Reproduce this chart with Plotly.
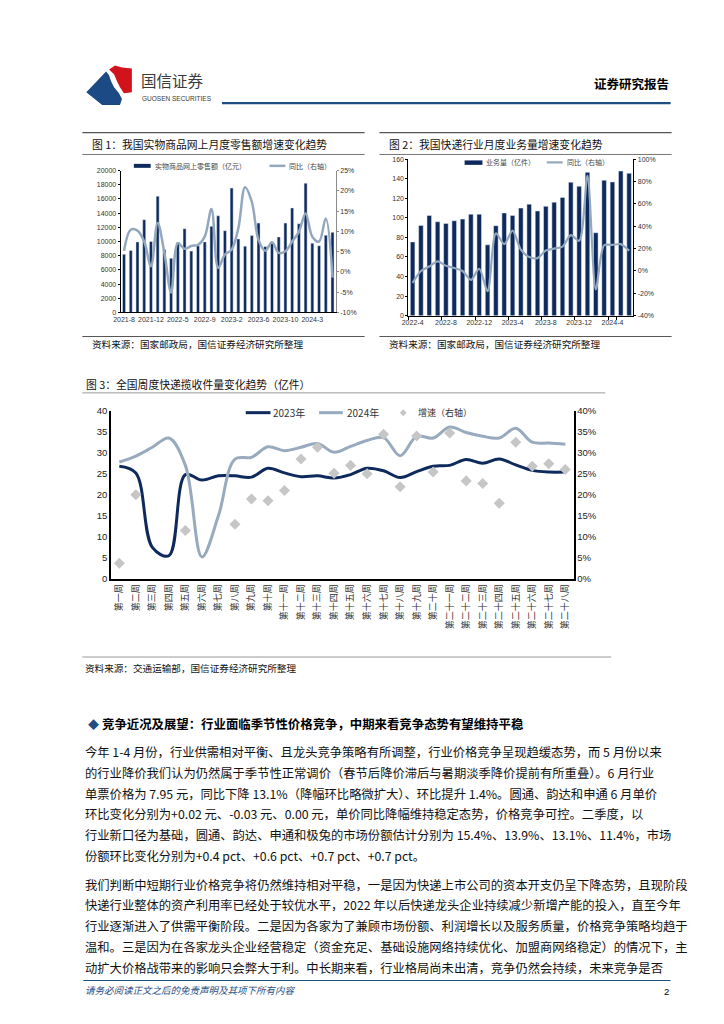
import plotly.graph_objects as go

W, H = 724, 1024
def X(p): return p / W
def Y(p): return 1 - p / H

NAVY = "#0e2a5c"
LIGHT = "#93a8bd"
DIAM = "#c6c6c6"
CJK = "Noto Sans CJK SC"
NUM = "Liberation Sans, Arial"

# ---------------- data: chart 1 ----------------
retail_months = ["2021-8", "2021-9", "2021-10", "2021-11", "2021-12",
                 "2022-2", "2022-3", "2022-4", "2022-5", "2022-6", "2022-7", "2022-8",
                 "2022-9", "2022-10", "2022-11", "2022-12",
                 "2023-2", "2023-3", "2023-4", "2023-5", "2023-6", "2023-7", "2023-8",
                 "2023-9", "2023-10", "2023-11", "2023-12",
                 "2024-2", "2024-3", "2024-4", "2024-5", "2024-6"]
retail_value = [8200, 8750, 9950, 13070, 10000, 16400, 8880, 7630, 9860, 11800, 8650, 9400,
                9950, 12140, 13630, 11530, 17530, 10370, 9350, 10840, 12600, 9300, 9950,
                10650, 12600, 14740, 12500, 18230, 9770, 9400, 10880, 11300]
retail_yoy = [0.052, 0.104, 0.102, 0.075, 0.014, 0.121, 0.047, -0.051, 0.071, 0.057, 0.064, 0.067,
              0.087, 0.155, 0.010, 0.043, 0.055, 0.108, 0.209, 0.173, 0.079, 0.052, 0.073,
              0.047, 0.051, 0.075, 0.099, 0.144, 0.087, 0.075, 0.132, -0.014]
retail_left_ticks = [0, 2000, 4000, 6000, 8000, 10000, 12000, 14000, 16000, 18000, 20000]
retail_right_ticks = [-0.10, -0.05, 0.0, 0.05, 0.10, 0.15, 0.20, 0.25]
retail_right_text = ["-10%", "-5%", "0%", "5%", "10%", "15%", "20%", "25%"]

# ---------------- data: chart 2 ----------------
express_months = ["2022-4", "2022-5", "2022-6", "2022-7", "2022-8", "2022-9", "2022-10",
                  "2022-11", "2022-12", "2023-1", "2023-2", "2023-3", "2023-4", "2023-5",
                  "2023-6", "2023-7", "2023-8", "2023-9", "2023-10", "2023-11", "2023-12",
                  "2024-1", "2024-2", "2024-3", "2024-4", "2024-5", "2024-6"]
express_volume = [75.4, 92.3, 102.4, 96.0, 94.3, 97.0, 98.7, 103.7, 103.7, 72.4, 92.0, 105.0,
                  102.4, 110.0, 114.0, 107.0, 111.8, 116.0, 120.9, 136.4, 132.3, 146.5, 84.8,
                  138.4, 136.7, 147.8, 145.5]
express_yoy = [-0.106, 0.0, 0.04, 0.086, 0.047, 0.027, 0.0, -0.08, 0.02, -0.18, 0.336, 0.24,
               0.36, 0.19, 0.124, 0.115, 0.183, 0.20, 0.218, 0.32, 0.27, 0.85, -0.165,
               0.23, 0.233, 0.24, 0.18]
express_right_ticks = [-0.4, -0.2, 0.0, 0.2, 0.4, 0.6, 0.8, 1.0]
express_right_text = ["-40%", "-20%", "0%", "20%", "40%", "60%", "80%", "100%"]

# ---------------- data: chart 3 ----------------
weeks = ["第一周", "第二周", "第三周", "第四周", "第五周", "第六周", "第七周", "第八周",
         "第九周", "第十周", "第十一周", "第十二周", "第十三周", "第十四周", "第十五周",
         "第十六周", "第十七周", "第十八周", "第十九周", "第二十周", "第二十一周",
         "第二十二周", "第二十三周", "第二十四周", "第二十五周", "第二十六周",
         "第二十七周", "第二十八周"]
vol_2023 = [26.8, 25.2, 7.5, 5.5, 24.8, 23.5, 24.5, 24.5, 24.2, 26.3, 25.2, 24.3, 24.5, 24.0,
            24.8, 26.3, 25.7, 24.1, 25.5, 26.8, 27.0, 28.4, 27.5, 28.5, 27.1, 25.8, 25.4, 25.4]
vol_2024 = [27.8, 29.2, 31.3, 33.5, 27.0, 5.2, 15.0, 28.5, 28.9, 31.4, 30.5, 31.3, 32.2, 30.1,
            31.5, 32.9, 33.6, 29.3, 33.9, 33.5, 36.1, 34.8, 33.9, 33.5, 35.8, 32.5, 32.3, 32.0]
growth_2024 = [0.037, 0.20, None, None, 0.115, None, None, 0.13, 0.19, 0.186, 0.21, 0.285,
               0.313, 0.251, 0.27, 0.25, 0.344, 0.219, 0.34, 0.254, 0.347, 0.233, 0.227,
               0.18, 0.325, 0.268, 0.274, 0.26]
week_right_ticks = [0, 0.05, 0.10, 0.15, 0.20, 0.25, 0.30, 0.35, 0.40]
week_right_text = ["0%", "5%", "10%", "15%", "20%", "25%", "30%", "35%", "40%"]

fig = go.Figure()

# chart 1
fig.add_trace(go.Bar(x=retail_months, y=retail_value, marker_color=NAVY, width=0.45,
                     xaxis="x", yaxis="y", name="实物商品网上零售额（亿元）"))
fig.add_trace(go.Scatter(x=retail_months, y=retail_yoy, mode="lines",
                         line=dict(color=LIGHT, width=2.5, shape="spline", smoothing=1.0),
                         xaxis="x", yaxis="y2", name="同比（右轴）"))
# chart 2
fig.add_trace(go.Bar(x=express_months, y=express_volume, marker_color=NAVY, width=0.55,
                     xaxis="x2", yaxis="y3", name="业务量（亿件）"))
fig.add_trace(go.Scatter(x=express_months, y=express_yoy, mode="lines",
                         line=dict(color=LIGHT, width=2.2, shape="spline", smoothing=0.8),
                         xaxis="x2", yaxis="y4", name="同比（右轴）"))
# chart 3
fig.add_trace(go.Scatter(x=weeks, y=vol_2023, mode="lines",
                         line=dict(color=NAVY, width=3, shape="spline", smoothing=1.0),
                         xaxis="x3", yaxis="y5", name="2023年"))
fig.add_trace(go.Scatter(x=weeks, y=vol_2024, mode="lines",
                         line=dict(color="#98aabd", width=3, shape="spline", smoothing=1.0),
                         xaxis="x3", yaxis="y5", name="2024年"))
fig.add_trace(go.Scatter(x=weeks, y=growth_2024, mode="markers",
                         marker=dict(symbol="diamond", size=8.5, color=DIAM),
                         xaxis="x3", yaxis="y6", name="增速（右轴）"))

tick_small = dict(family=NUM, size=7, color="#333333")
tick_mid = dict(family=NUM, size=9.5, color="#222222")

common = dict(showgrid=False, zeroline=False, fixedrange=True)

fig.update_layout(
    width=W, height=H, margin=dict(l=0, r=0, t=0, b=0),
    paper_bgcolor="white", plot_bgcolor="white", showlegend=False,
    xaxis=dict(domain=[X(106.7), X(324)], anchor="y", type="category",
               range=[-0.5, len(retail_months) - 0.5],
               tickmode="array", tickvals=retail_months[::4], ticktext=retail_months[::4],
               tickangle=0, tickfont=tick_small, showline=True, linecolor="#000000",
               linewidth=1, ticks="", **common),
    yaxis=dict(domain=[Y(301.7), Y(158.3)], anchor="x", range=[0, 20000],
               tickmode="array", tickvals=retail_left_ticks,
               ticktext=[str(v) for v in retail_left_ticks],
               tickfont=tick_small, showline=True, linecolor="#000000", linewidth=1,
               ticks="outside", ticklen=2, tickcolor="#000000", **common),
    yaxis2=dict(overlaying="y", side="right", anchor="x", range=[-0.10, 0.25],
                tickmode="array", tickvals=retail_right_ticks, ticktext=retail_right_text,
                tickfont=tick_small, showline=True, linecolor="#8c8c8c", linewidth=1,
                ticks="outside", ticklen=2, tickcolor="#8c8c8c", **common),
    xaxis2=dict(domain=[X(397.3), X(624.3)], anchor="y3", type="category",
                range=[-0.5, len(express_months) - 0.5],
                tickmode="array", tickvals=express_months[::4], ticktext=express_months[::4],
                tickangle=0, tickfont=tick_small, showline=True, linecolor="#000000",
                linewidth=1, ticks="outside", tickson="boundaries", ticklen=3,
                tickcolor="#000000", **common),
    yaxis3=dict(domain=[Y(305), Y(146.7)], anchor="x2", range=[0, 160], dtick=20,
                tickfont=tick_small, showline=True, linecolor="#000000", linewidth=1.2,
                ticks="outside", ticklen=2, tickcolor="#000000", **common),
    yaxis4=dict(overlaying="y3", side="right", anchor="x2", range=[-0.4, 1.0],
                tickmode="array", tickvals=express_right_ticks, ticktext=express_right_text,
                tickfont=tick_small, showline=True, linecolor="#000000", linewidth=1.2,
                ticks="outside", ticklen=2, tickcolor="#000000", **common),
    xaxis3=dict(domain=[X(97), X(564)], anchor="y5", type="category",
                range=[-0.5, len(weeks) - 0.5],
                tickmode="array", tickvals=weeks, ticktext=weeks, tickangle=-90,
                tickfont=dict(family=CJK, size=9, color="#333333"),
                showline=True, linecolor="#000000", linewidth=1.5, ticks="", **common),
    yaxis5=dict(domain=[Y(571), Y(401)], anchor="x3", range=[0, 40], dtick=5,
                tickfont=tick_mid, showline=True, linecolor="#000000", linewidth=1.5,
                ticks="", **common),
    yaxis6=dict(overlaying="y5", side="right", anchor="x3", range=[0, 0.40],
                tickmode="array", tickvals=week_right_ticks, ticktext=week_right_text,
                tickfont=tick_mid, showline=True, linecolor="#000000", linewidth=1.5,
                ticks="", **common),
)

shapes = []
ann = []

def hline(x0, x1, y, color, w):
    shapes.append(dict(type="line", xref="paper", yref="paper",
                       x0=X(x0), x1=X(x1), y0=Y(y), y1=Y(y),
                       line=dict(color=color, width=w)))

def rect(x0, x1, y0, y1, color):
    shapes.append(dict(type="rect", xref="paper", yref="paper",
                       x0=X(x0), x1=X(x1), y0=Y(y1), y1=Y(y0),
                       fillcolor=color, line=dict(width=0)))

def path(pts, color):
    d = "M " + " L ".join(f"{X(a):.5f},{Y(b):.5f}" for a, b in pts) + " Z"
    shapes.append(dict(type="path", xref="paper", yref="paper", path=d,
                       fillcolor=color, line=dict(width=0)))

def text(x, y, s, size, color="#000000", family=CJK, anchor="left", bold=False, italic=False):
    if bold:
        s = "<b>" + s + "</b>"
    if italic:
        s = "<i>" + s + "</i>"
    ann.append(dict(xref="paper", yref="paper", x=X(x), y=Y(y), text=s, showarrow=False,
                    xanchor=anchor, yanchor="middle",
                    font=dict(family=family, size=size, color=color)))

# ---------- header ----------
path([(72, 79), (92, 58), (95, 62), (97, 68), (100, 74), (105, 80), (108, 86), (106, 92), (88, 92)], "#1b4a85")
path([(95, 56), (101, 52), (108, 54), (118, 55), (118, 79), (110, 80), (106, 74), (103, 68), (100, 61)], "#d3131b")
text(125, 67, "国信证券", 15.5, "#3a3a3a")
text(126, 85, "GUOSEN SECURITIES", 6.5, "#3a3a3a", family=NUM)
text(662, 70, "证券研究报告", 12.5, "#000000", anchor="right", bold=True)
hline(209, 662, 90, "#1f4e82", 2.2)

# ---------- chart 1 frame ----------
hline(68, 353, 120, "#555555", 1.2)
text(76, 131, "图 1：我国实物商品网上月度零售额增速变化趋势", 10.8, "#111111")
hline(68, 353, 142, "#777777", 1)
hline(68, 353, 326, "#555555", 1)
text(76, 334, "资料来源：国家邮政局，国信证券经济研究所整理", 9.6, "#111111")
rect(120, 137, 151.5, 155.5, NAVY)
text(139, 153.5, "实物商品网上零售额（亿元）", 7, "#444444")
hline(257, 273, 153.5, LIGHT, 2.5)
text(275, 153.5, "同比（右轴）", 7, "#444444")

# ---------- chart 2 frame ----------
hline(368, 663, 120, "#555555", 1.2)
text(376, 131, "图 2：我国快递行业月度业务量增速变化趋势", 10.8, "#111111")
hline(368, 663, 142, "#777777", 1)
hline(368, 663, 326, "#555555", 1)
text(376, 334, "资料来源：国家邮政局，国信证券经济研究所整理", 9.6, "#111111")
rect(454, 472, 148, 152.5, NAVY)
text(474, 150, "业务量（亿件）", 7, "#444444")
hline(537, 553, 150, LIGHT, 2.2)
text(555, 150, "同比（右轴）", 7, "#444444")

# ---------- chart 3 frame ----------
text(70, 374, "图 3：全国周度快递揽收件量变化趋势（亿件）", 10.8, "#111111")
hline(68, 596, 383, "#999999", 1)
hline(233, 258, 403, NAVY, 3)
text(259, 403, "2023年", 10, "#333333")
hline(307, 331, 403, "#98aabd", 3)
text(333, 403, "2024年", 10, "#333333")
path([(392, 399.5), (395.5, 403), (392, 406.5), (388.5, 403)], DIAM)
text(405, 403, "增速（右轴）", 9, "#333333")
hline(68, 602, 650, "#999999", 1)
text(69, 661, "资料来源：交通运输部，国信证券经济研究所整理", 9.6, "#111111")

# ---------- body text ----------
text(72, 718, "◆", 11, "#1f4e82")
text(86, 718, "竞争近况及展望：行业面临季节性价格竞争，中期来看竞争态势有望维持平稳", 12.4, "#000000", bold=True)

para1 = [
    "今年 1-4 月份，行业供需相对平衡、且龙头竞争策略有所调整，行业价格竞争呈现趋缓态势，而 5 月份以来",
    "的行业降价我们认为仍然属于季节性正常调价（春节后降价滞后与暑期淡季降价提前有所重叠）。6 月行业",
    "单票价格为 7.95 元，同比下降 13.1%（降幅环比略微扩大）、环比提升 1.4%。圆通、韵达和申通 6 月单价",
    "环比变化分别为+0.02 元、-0.03 元、0.00 元，单价同比降幅维持稳定态势，价格竞争可控。二季度，以",
    "行业新口径为基础，圆通、韵达、申通和极兔的市场份额估计分别为 15.4%、13.9%、13.1%、11.4%，市场",
    "份额环比变化分别为+0.4 pct、+0.6 pct、+0.7 pct、+0.7 pct。",
]
para2 = [
    "我们判断中短期行业价格竞争将仍然维持相对平稳，一是因为快递上市公司的资本开支仍呈下降态势，且现阶段",
    "快递行业整体的资产利用率已经处于较优水平，2022 年以后快递龙头企业持续减少新增产能的投入，直至今年",
    "行业逐渐进入了供需平衡阶段。二是因为各家为了兼顾市场份额、利润增长以及服务质量，价格竞争策略均趋于",
    "温和。三是因为在各家龙头企业经营稳定（资金充足、基础设施网络持续优化、加盟商网络稳定）的情况下，主",
    "动扩大价格战带来的影响只会弊大于利。中长期来看，行业格局尚未出清，竞争仍然会持续，未来竞争是否",
]
for i, s in enumerate(para1):
    text(69, 746 + i * 21, s, 12.3, "#111111")
for i, s in enumerate(para2):
    text(69, 880 + i * 21, s, 12.3, "#111111")

# ---------- footer ----------
hline(69, 662, 977, "#1f4e82", 1)
text(69, 987, "请务必阅读正文之后的免责声明及其项下所有内容", 9.5, "#1f4e82", italic=True)
text(662, 988, "2", 9.5, "#000000", family=NUM, anchor="right")

fig.update_layout(shapes=shapes, annotations=ann)
fig.write_html("out.html")
